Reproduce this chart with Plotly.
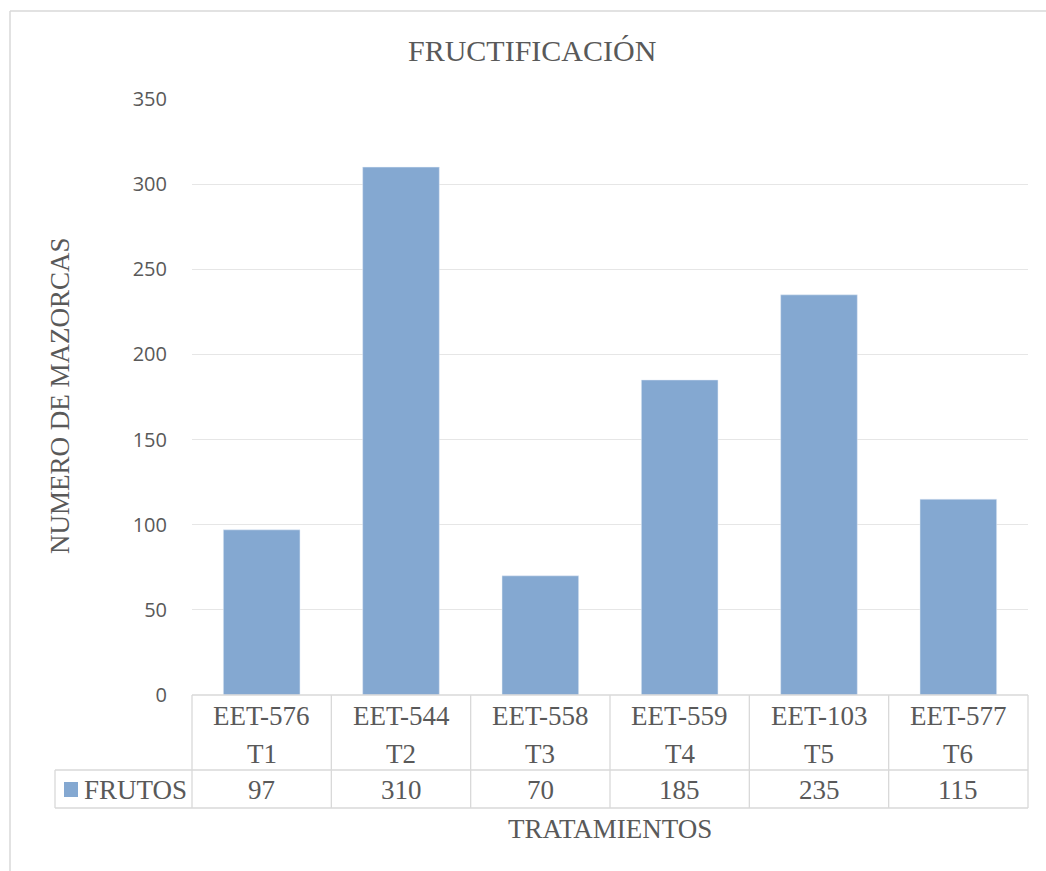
import plotly.graph_objects as go

codes = ["EET-576", "EET-544", "EET-558", "EET-559", "EET-103", "EET-577"]
treatments = ["T1", "T2", "T3", "T4", "T5", "T6"]
frutos = [97, 310, 70, 185, 235, 115]
series_name = "FRUTOS"
y_ticks = [0, 50, 100, 150, 200, 250, 300, 350]

W, H = 1046, 871
L, R, T, B = 192, 1028, 99, 695
BAR = "#84A8D1"
GRID = "#e6e6e6"
LINE = "#d9d9d9"
TXT = "#595959"
SERIF = "Liberation Serif, Times New Roman, serif"
SANS = "Open Sans, sans-serif"
FS = 27

def px(x):
    return (x - L) / (R - L)

def py(y):
    return (B - y) / (B - T)

fig = go.Figure()
fig.add_trace(go.Bar(x=codes, y=frutos, name=series_name, marker_color=BAR,
                     width=0.55, showlegend=False))

shapes = []
def line(x0, y0, x1, y1, color=LINE, w=1.3):
    shapes.append(dict(type="line", xref="paper", yref="paper",
                       x0=px(x0), y0=py(y0), x1=px(x1), y1=py(y1),
                       line=dict(color=color, width=w)))

# outer chart border
line(10, 11, 10, 900, "#d9d9d9", 1.5)
line(10, 11, 1100, 11, "#d9d9d9", 1.5)

# data table grid
n = len(codes)
col_w = (R - L) / n
line(L, B, R, B)
line(55, 770, R, 770)
line(55, 808, R, 808)
line(55, 770, 55, 808)
for i in range(n + 1):
    xx = L + i * col_w
    line(xx, B, xx, 808)

# legend square in table
shapes.append(dict(type="rect", xref="paper", yref="paper",
                   x0=px(64), x1=px(78), y0=py(782), y1=py(797),
                   fillcolor=BAR, line=dict(width=0)))

def ann(x, y, text, xref="paper", size=FS, xanchor="center", angle=0):
    return dict(x=x, y=y, xref=xref, yref="paper", text=text, showarrow=False,
                xanchor=xanchor, yanchor="middle", textangle=angle,
                font=dict(family=SERIF, size=size, color=TXT))

annotations = []
for c, t, v in zip(codes, treatments, frutos):
    annotations.append(ann(c, py(716), c, xref="x"))
    annotations.append(ann(c, py(754), t, xref="x"))
    annotations.append(ann(c, py(790), str(v), xref="x"))

annotations.append(ann(px(82), py(790), series_name, xanchor="left"))
annotations.append(ann(px(532), py(50), "FRUCTIFICACIÓN", size=30))
annotations.append(ann(px(610), py(829), "TRATAMIENTOS"))
annotations.append(ann(px(60), py(396), "NUMERO DE MAZORCAS", angle=-90))

fig.update_layout(
    width=W, height=H,
    margin=dict(l=L, r=W - R, t=T, b=H - B, pad=0),
    paper_bgcolor="white", plot_bgcolor="white",
    shapes=shapes, annotations=annotations,
    bargap=0.45,
    xaxis=dict(showticklabels=False, showgrid=False, zeroline=False, showline=False,
               ticks="", range=[-0.5, n - 0.5]),
    yaxis=dict(range=[0, 350], tickvals=y_ticks, showgrid=True, gridcolor=GRID, gridwidth=1.3,
               zeroline=False, showline=False, ticks="", ticklabelstandoff=24,
               tickfont=dict(family=SANS, size=20, color=TXT)),
)

fig.write_html("out.html", config={"displayModeBar": False},
               post_script="document.body.style.margin='0';")
